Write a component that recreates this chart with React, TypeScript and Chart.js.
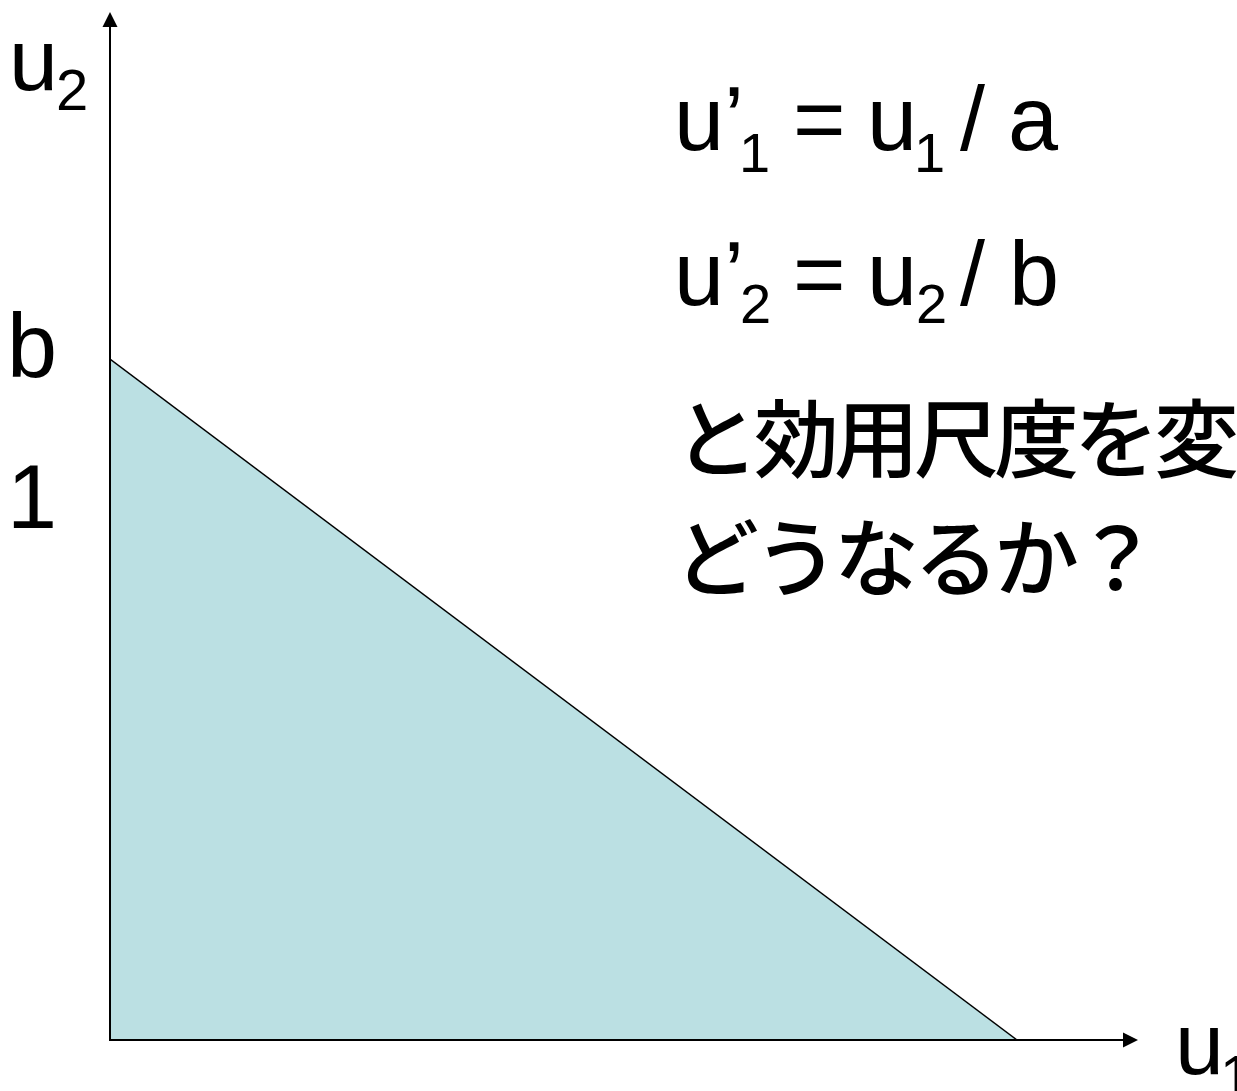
import React, { useEffect, useRef } from "react";
import { Chart, registerables } from "chart.js";

Chart.register(...registerables);

// ---- data ----
const frontierU1: number[] = [0, 1.8]; // u1 values along the utility frontier (u1 intercept = a)
const frontierU2: number[] = [1.254, 0]; // u2 values along the utility frontier (u2 intercept = b)
const yTickValues: number[] = [1.254, 1];
const yTickLabels: string[] = ["b", "1"];
const axisMax: number[] = [2.04, 1.893]; // [u1 max, u2 max]

const LATIN = '"Liberation Sans", Arial, sans-serif';
const CJK = '"Noto Sans CJK JP", "Noto Sans", sans-serif';

type Piece = { t: string; x: number; y: number; s: number };
const formulaPieces: Piece[] = [
  { t: "u’", x: 674, y: 150, s: 90 },
  { t: "1", x: 739, y: 172, s: 56 },
  { t: "=", x: 793, y: 150, s: 90 },
  { t: "u", x: 867, y: 150, s: 90 },
  { t: "1", x: 914, y: 172, s: 56 },
  { t: "/", x: 960, y: 150, s: 90 },
  { t: "a", x: 1008, y: 150, s: 90 },
  { t: "u’", x: 674, y: 305, s: 90 },
  { t: "2", x: 740, y: 323, s: 56 },
  { t: "=", x: 793, y: 305, s: 90 },
  { t: "u", x: 867, y: 305, s: 90 },
  { t: "2", x: 916, y: 323, s: 56 },
  { t: "/", x: 960, y: 305, s: 90 },
  { t: "b", x: 1009, y: 305, s: 90 },
];
const jpLines: string[] = ["と効用尺度を変", "どうなるか？"];

const overlay = {
  id: "overlay",
  afterDatasetsDraw(chart: any) {
    const ctx: CanvasRenderingContext2D = chart.ctx;
    const xs = chart.scales.x;
    const ys = chart.scales.y;
    const x0 = xs.getPixelForValue(0);
    const y0 = ys.getPixelForValue(0);
    const xEnd = xs.getPixelForValue(axisMax[0]);
    const yEnd = ys.getPixelForValue(axisMax[1]);
    ctx.save();
    ctx.strokeStyle = "#000";
    ctx.fillStyle = "#000";
    ctx.lineWidth = 2;
    // y axis
    ctx.beginPath();
    ctx.moveTo(x0, y0 + 1);
    ctx.lineTo(x0, yEnd + 14);
    ctx.stroke();
    ctx.beginPath();
    ctx.moveTo(x0, yEnd);
    ctx.lineTo(x0 - 7.5, yEnd + 15);
    ctx.lineTo(x0 + 7.5, yEnd + 15);
    ctx.closePath();
    ctx.fill();
    // x axis
    ctx.beginPath();
    ctx.moveTo(x0 - 1, y0);
    ctx.lineTo(xEnd - 14, y0);
    ctx.stroke();
    ctx.beginPath();
    ctx.moveTo(xEnd, y0);
    ctx.lineTo(xEnd - 15, y0 - 7.5);
    ctx.lineTo(xEnd - 15, y0 + 7.5);
    ctx.closePath();
    ctx.fill();
    ctx.restore();
  },
  afterDraw(chart: any) {
    const ctx: CanvasRenderingContext2D = chart.ctx;
    const xs = chart.scales.x;
    const ys = chart.scales.y;
    const x0 = xs.getPixelForValue(0);
    const y0 = ys.getPixelForValue(0);
    ctx.save();
    ctx.fillStyle = "#000";
    ctx.textBaseline = "alphabetic";
    ctx.textAlign = "left";
    // y tick labels
    yTickLabels.forEach((lab, i) => {
      const py = ys.getPixelForValue(yTickValues[i]);
      ctx.font = `90px ${LATIN}`;
      const off = lab === "1" ? 31 : 18;
      ctx.fillText(lab, x0 - 103, py + off);
    });
    // axis titles
    ctx.font = `88px ${LATIN}`;
    ctx.fillText("u", 9, 90);
    ctx.font = `58px ${LATIN}`;
    ctx.fillText("2", 56, 110);
    ctx.font = `88px ${LATIN}`;
    ctx.fillText("u", 1175, y0 + 34);
    ctx.font = `58px ${LATIN}`;
    ctx.fillText("1", 1220, y0 + 56);
    // formulas
    formulaPieces.forEach((p) => {
      ctx.font = `${p.s}px ${LATIN}`;
      ctx.fillText(p.t, p.x, p.y);
    });
    // Japanese text
    ctx.font = `500 85px ${CJK}`;
    try {
      (ctx as any).letterSpacing = "-5px";
    } catch (e) {}
    ctx.fillText(jpLines[0], 674, 471);
    ctx.fillText(jpLines[1], 674, 590);
    ctx.restore();
  },
};

export default function App() {
  const ref = useRef<HTMLCanvasElement | null>(null);
  useEffect(() => {
    document.body.style.margin = "0";
    const canvas = ref.current;
    if (!canvas) return;
    const chart = new Chart(canvas, {
      type: "line",
      data: {
        datasets: [
          {
            data: frontierU1.map((u, i) => ({ x: u, y: frontierU2[i] })),
            borderColor: "#000",
            borderWidth: 1.5,
            backgroundColor: "rgb(187,224,227)",
            fill: "origin",
            pointRadius: 0,
            tension: 0,
          },
        ],
      },
      options: {
        animation: false,
        responsive: false,
        maintainAspectRatio: false,
        events: [],
        layout: { padding: { left: 110, right: 99, top: 12, bottom: 51 } },
        plugins: { legend: { display: false }, tooltip: { enabled: false } },
        scales: {
          x: { type: "linear", min: 0, max: axisMax[0], display: false },
          y: { type: "linear", min: 0, max: axisMax[1], display: false },
        },
      },
      plugins: [overlay],
    });
    return () => chart.destroy();
  }, []);
  return (
    <div style={{ position: "absolute", left: 0, top: 0, width: 1237, height: 1091, background: "#fff" }}>
      <canvas ref={ref} width={1237} height={1091} style={{ width: 1237, height: 1091 }} />
    </div>
  );
}
